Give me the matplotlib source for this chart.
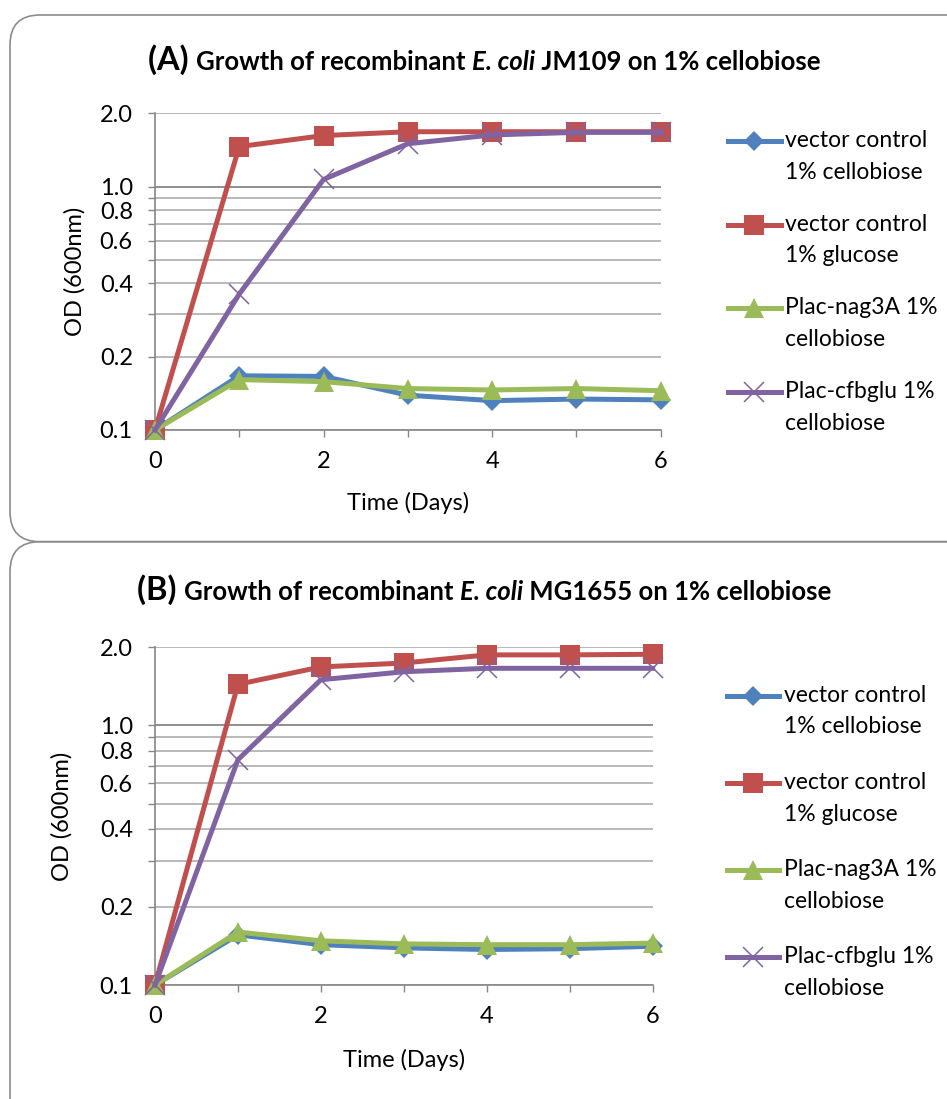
import matplotlib
matplotlib.use("Agg")
import matplotlib.pyplot as plt
from matplotlib.patches import FancyBboxPatch
from matplotlib.transforms import IdentityTransform
from matplotlib.offsetbox import TextArea, HPacker, AnchoredOffsetbox
from matplotlib.ticker import NullLocator

plt.rcParams['font.family'] = ['Lato', 'DejaVu Sans']

W, H = 947, 1099
fig = plt.figure(figsize=(W / 100, H / 100), dpi=100)
fig.patch.set_facecolor("white")

#### Data
days = [0, 1, 2, 3, 4, 5, 6]

# (A) JM109
a_vec_cello = [0.10, 0.167, 0.166, 0.139, 0.132, 0.134, 0.133]
a_vec_gluc = [0.10, 1.46, 1.62, 1.68, 1.68, 1.68, 1.68]
a_nag3a = [0.10, 0.161, 0.158, 0.148, 0.146, 0.148, 0.145]
a_cfbglu = [0.10, 0.362, 1.07, 1.50, 1.63, 1.67, 1.67]

# (B) MG1655
b_vec_cello = [0.10, 0.156, 0.143, 0.139, 0.137, 0.138, 0.141]
b_vec_gluc = [0.10, 1.44, 1.68, 1.74, 1.87, 1.87, 1.88]
b_nag3a = [0.10, 0.160, 0.148, 0.144, 0.143, 0.143, 0.145]
b_cfbglu = [0.10, 0.738, 1.50, 1.61, 1.66, 1.66, 1.66]

labels = ["vector control\n1% cellobiose",
          "vector control\n1% glucose",
          "Plac-nag3A 1%\ncellobiose",
          "Plac-cfbglu 1%\ncellobiose"]

y_ticks = [0.1, 0.2, 0.3, 0.4, 0.5, 0.6, 0.7, 0.8, 0.9, 1.0, 2.0]
y_labels = ["0.1", "0.2", "", "0.4", "", "0.6", "", "0.8", "", "1.0", "2.0"]

# Styles (Excel 2007 palette)
styles = [
    dict(color="#4F81BD", marker="D", ms=10.5, mew=0),
    dict(color="#C0504D", marker="s", ms=14, mew=0),
    dict(color="#9BBB59", marker="^", ms=15, mew=0),
    dict(color="#8064A2", marker="x", ms=14, mew=1.1),
]
GRID = "#B3B3B3"
AXIS = "#868686"
FS = 17
FS_LEG = 16.5


def px_rect(x0, y0, x1, y1):
    """pixel box (top-left origin) -> figure fraction rect"""
    return [x0 / W, 1 - y1 / H, (x1 - x0) / W, (y1 - y0) / H]


def cadre(y0, y1):
    box = FancyBboxPatch((10, H - y1), 975, y1 - y0,
                         boxstyle="round,pad=0,rounding_size=30",
                         transform=IdentityTransform(),
                         facecolor="none", edgecolor="#8C8C8C", linewidth=1.2)
    fig.add_artist(box)


def titre(lettre, souche, cx, cy):
    parts = [
        TextArea(lettre + " ", textprops=dict(fontsize=23.5, fontweight="bold")),
        TextArea("Growth of recombinant ", textprops=dict(fontsize=18.5, fontweight="bold")),
        TextArea("E. coli", textprops=dict(fontsize=18.5, fontweight="bold", fontstyle="italic")),
        TextArea(" " + souche + " on 1% cellobiose", textprops=dict(fontsize=18.5, fontweight="bold")),
    ]
    box = HPacker(children=parts, align="baseline", pad=0, sep=0)
    anchored = AnchoredOffsetbox(loc="center", child=box, frameon=False, pad=0, borderpad=0,
                                 bbox_to_anchor=(cx / W, 1 - cy / H),
                                 bbox_transform=fig.transFigure)
    fig.add_artist(anchored)


def panneau(rect, series, ylab_x, xlab_y, leg_xy, leg_space):
    ax = fig.add_axes(rect)
    handles = []
    for values, st in zip(series, styles):
        line, = ax.plot(days, values, color=st["color"], lw=3.6,
                        marker=st["marker"], markersize=st["ms"],
                        markeredgewidth=st["mew"], markeredgecolor=st["color"],
                        clip_on=False, zorder=3)
        handles.append(line)

    ax.set_yscale("log")
    ax.set_ylim(0.1, 2.0)
    ax.set_yticks(y_ticks)
    ax.set_yticklabels(y_labels)
    ax.yaxis.set_minor_locator(NullLocator())
    ax.set_xlim(0, 6)
    ax.set_xticks([0, 2, 4, 6])
    ax.set_xticks([1, 3, 5], minor=True)

    ax.set_axisbelow(True)
    ax.yaxis.grid(True, color=GRID, linewidth=1.3)
    for tick in ax.yaxis.get_major_ticks():
        if abs(tick.get_loc() - 1.0) < 1e-9:
            tick.gridline.set_color(AXIS)

    for s in ["top", "right"]:
        ax.spines[s].set_visible(False)
    for s in ["left", "bottom"]:
        ax.spines[s].set_color(AXIS)
        ax.spines[s].set_linewidth(1.2)

    ax.tick_params(axis="both", which="both", direction="out", length=5,
                   width=1, color=AXIS, labelsize=FS, labelcolor="black")
    ax.tick_params(axis="y", pad=11)
    ax.tick_params(axis="x", pad=10)

    ax.set_ylabel("OD (600nm)", fontsize=FS)
    ax.yaxis.set_label_coords(ylab_x, 0.5)
    ax.set_xlabel("Time (Days)", fontsize=FS)
    ax.xaxis.set_label_coords(0.5, xlab_y)

    # blank first line so the marker sits on the first text line
    leg_labels = ["\n" + lab for lab in labels]
    leg = fig.legend(handles, leg_labels, loc="center left",
                     bbox_to_anchor=(leg_xy[0] / W, 1 - leg_xy[1] / H),
                     frameon=False, fontsize=FS_LEG, borderpad=0, borderaxespad=0,
                     handlelength=2.3, handletextpad=0.2,
                     labelspacing=leg_space)
    for t in leg.get_texts():
        t.set_linespacing(1.63)
    return ax


#### Main program
cadre(15, 541.7)
cadre(541.7, 1140)

titre("(A)", "JM109", 484, 60)
titre("(B)", "MG1655", 484, 590)

panneau(px_rect(155, 113.3, 660.7, 430),
        [a_vec_cello, a_vec_gluc, a_nag3a, a_cfbglu],
        -0.138, -0.196, (728, 266), -0.03)
panneau(px_rect(155, 647.3, 652.7, 985),
        [b_vec_cello, b_vec_gluc, b_nag3a, b_cfbglu],
        -0.165, -0.19, (726.7, 826), 0.12)

fig.savefig("out.png", dpi=100)
